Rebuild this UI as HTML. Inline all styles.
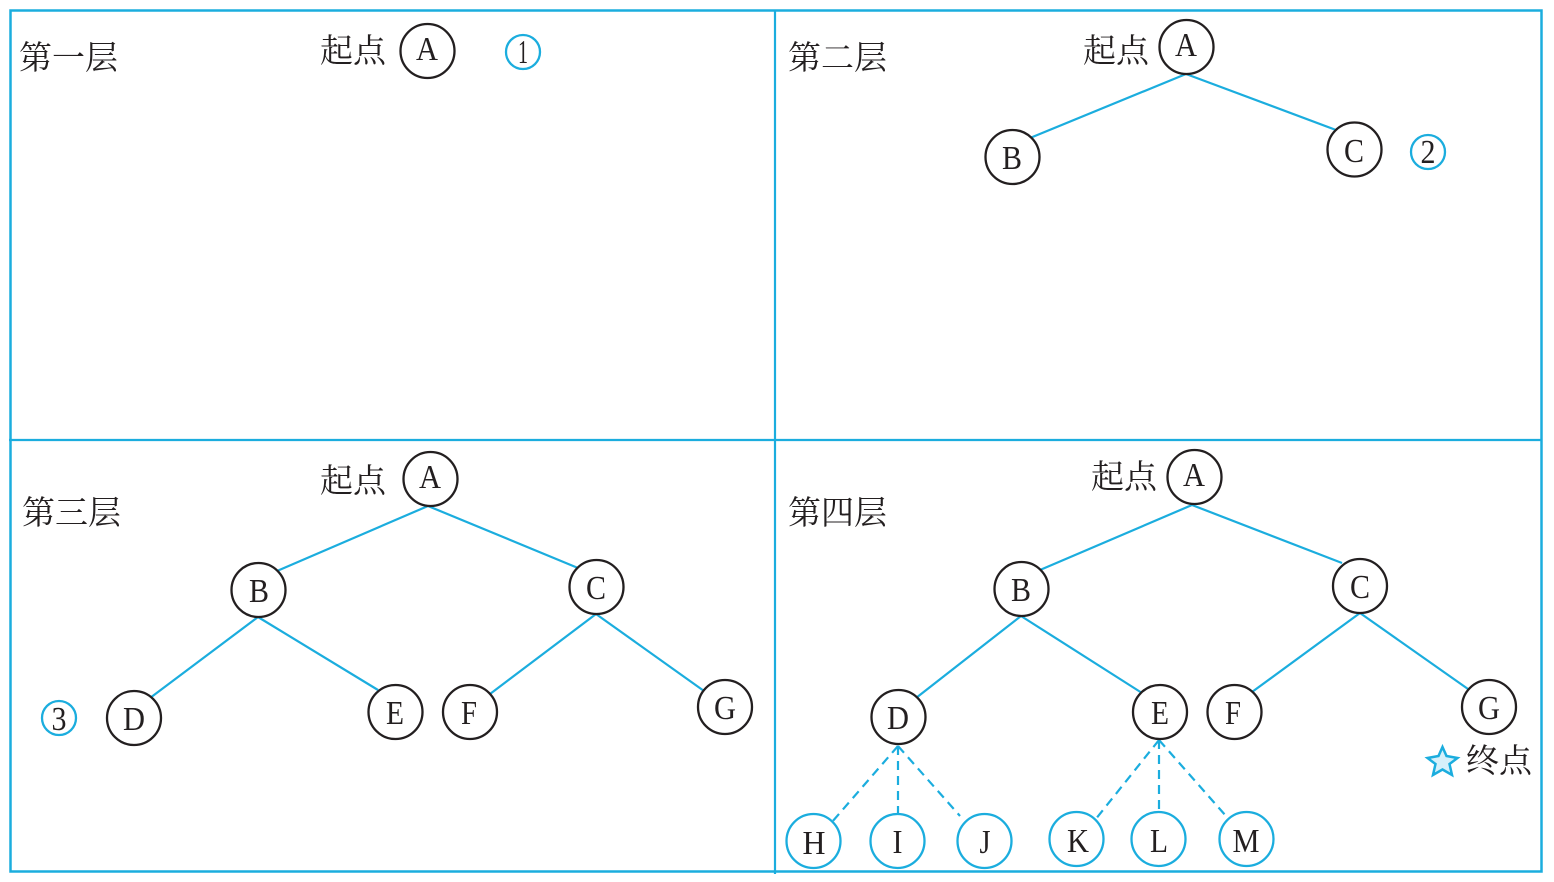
<!DOCTYPE html>
<html><head><meta charset="utf-8"><style>
html,body{margin:0;padding:0;background:#fff}
svg{display:block}
text{font-family:"Liberation Serif","Noto Serif CJK SC",serif;fill:#231f20}
.n{font-size:34px;text-anchor:middle}
.z{font-size:33px}
.l{stroke:#1badde;stroke-width:2.200;fill:none}
.d{stroke:#1badde;stroke-width:2.200;fill:none;stroke-dasharray:9 6}
.k{fill:#fff;stroke:#231f20;stroke-width:2.300}
.b{fill:#fff;stroke:#1badde;stroke-width:2.300}
</style></head><body>
<svg width="1554" height="882" viewBox="0 0 1554 882" xmlns="http://www.w3.org/2000/svg">
<rect class="l" x="10.500" y="10.500" width="1531" height="861" style="stroke-width:2.500"/>
<path class="l" d="M775 10V874M9 440H1542"/>

<text class="z" x="19" y="69">第一层</text>
<text class="z" x="788" y="69">第二层</text>
<text class="z" x="22" y="524">第三层</text>
<text class="z" x="788" y="524">第四层</text>
<text class="z" x="320" y="62">起点</text>
<text class="z" x="1083" y="62">起点</text>
<text class="z" x="320" y="492">起点</text>
<text class="z" x="1091" y="488">起点</text>
<text class="z" x="1466" y="772">终点</text>

<circle class="k" cx="427.500" cy="51" r="27"/><text class="n" x="427" y="60" textLength="22" lengthAdjust="spacingAndGlyphs">A</text>
<circle class="b" cx="523" cy="52" r="17"/><text class="n" x="523" y="63" textLength="10" lengthAdjust="spacingAndGlyphs">1</text>

<path class="l" d="M1186 74L1030 138M1186 74L1336 130"/>
<circle class="k" cx="1186.500" cy="47" r="27"/><text class="n" x="1186" y="56" textLength="22" lengthAdjust="spacingAndGlyphs">A</text>
<circle class="k" cx="1012.500" cy="157" r="27"/><text class="n" x="1012" y="169" textLength="20" lengthAdjust="spacingAndGlyphs">B</text>
<circle class="k" cx="1354.500" cy="149.500" r="27"/><text class="n" x="1354" y="162" textLength="20" lengthAdjust="spacingAndGlyphs">C</text>
<circle class="b" cx="1428" cy="152" r="17"/><text class="n" x="1428" y="163" textLength="15" lengthAdjust="spacingAndGlyphs">2</text>

<path class="l" d="M428 506L277 571M428 506L578 568M258 617L150 698M258 617L378 690M596 614L490 694M596 614L704 691"/>
<circle class="k" cx="430.500" cy="479" r="27"/><text class="n" x="430" y="488" textLength="22" lengthAdjust="spacingAndGlyphs">A</text>
<circle class="k" cx="258.500" cy="590" r="27"/><text class="n" x="259" y="602" textLength="20" lengthAdjust="spacingAndGlyphs">B</text>
<circle class="k" cx="596.500" cy="587" r="27"/><text class="n" x="596" y="599" textLength="20" lengthAdjust="spacingAndGlyphs">C</text>
<circle class="k" cx="134" cy="718" r="27"/><text class="n" x="134" y="730" textLength="22" lengthAdjust="spacingAndGlyphs">D</text>
<circle class="k" cx="395.500" cy="712" r="27"/><text class="n" x="395" y="724" textLength="18" lengthAdjust="spacingAndGlyphs">E</text>
<circle class="k" cx="470" cy="712" r="27"/><text class="n" x="469" y="724" textLength="16" lengthAdjust="spacingAndGlyphs">F</text>
<circle class="k" cx="725" cy="707" r="27"/><text class="n" x="725" y="719" textLength="22" lengthAdjust="spacingAndGlyphs">G</text>
<circle class="b" cx="59" cy="718" r="17"/><text class="n" x="59" y="730" textLength="15" lengthAdjust="spacingAndGlyphs">3</text>

<path class="l" d="M1192 505L1040 570M1192 505L1342 563M1021 616L916 698M1021 616L1142 693M1360 613L1252 692M1360 613L1468 689"/>
<path class="d" d="M898 746L832 822M898 746V814M898 746L960 816M1159 740L1095 820M1159 740V812M1159 740L1226 816"/>
<circle class="k" cx="1194.500" cy="477" r="27"/><text class="n" x="1194" y="486" textLength="22" lengthAdjust="spacingAndGlyphs">A</text>
<circle class="k" cx="1021.500" cy="589" r="27"/><text class="n" x="1021" y="601" textLength="20" lengthAdjust="spacingAndGlyphs">B</text>
<circle class="k" cx="1360" cy="586" r="27"/><text class="n" x="1360" y="598" textLength="20" lengthAdjust="spacingAndGlyphs">C</text>
<circle class="k" cx="898.500" cy="717" r="27"/><text class="n" x="898" y="729" textLength="22" lengthAdjust="spacingAndGlyphs">D</text>
<circle class="k" cx="1160" cy="712" r="27"/><text class="n" x="1160" y="724" textLength="18" lengthAdjust="spacingAndGlyphs">E</text>
<circle class="k" cx="1234.500" cy="712" r="27"/><text class="n" x="1233" y="724" textLength="16" lengthAdjust="spacingAndGlyphs">F</text>
<circle class="k" cx="1489" cy="707" r="27"/><text class="n" x="1489" y="719" textLength="22" lengthAdjust="spacingAndGlyphs">G</text>
<circle class="b" cx="813.500" cy="841" r="27"/><text class="n" x="814" y="854" textLength="23" lengthAdjust="spacingAndGlyphs">H</text>
<circle class="b" cx="897.500" cy="841" r="27"/><text class="n" x="897.500" y="853" textLength="10" lengthAdjust="spacingAndGlyphs">I</text>
<circle class="b" cx="984.500" cy="841" r="27"/><text class="n" x="985" y="853" textLength="11" lengthAdjust="spacingAndGlyphs">J</text>
<circle class="b" cx="1076.500" cy="839" r="27"/><text class="n" x="1078" y="852" textLength="22" lengthAdjust="spacingAndGlyphs">K</text>
<circle class="b" cx="1158.500" cy="839" r="27"/><text class="n" x="1159" y="852" textLength="18" lengthAdjust="spacingAndGlyphs">L</text>
<circle class="b" cx="1246.500" cy="839" r="27"/><text class="n" x="1246" y="852" textLength="27" lengthAdjust="spacingAndGlyphs">M</text>

<polygon points="1442.500,747 1446.500,756 1457.500,758 1449.500,764 1452,775 1442.500,769.500 1433,775 1435.500,764 1427.500,758 1438.500,756" fill="#d6f0fa" stroke="#1badde" stroke-width="2.500"/>
</svg>
</body></html>
